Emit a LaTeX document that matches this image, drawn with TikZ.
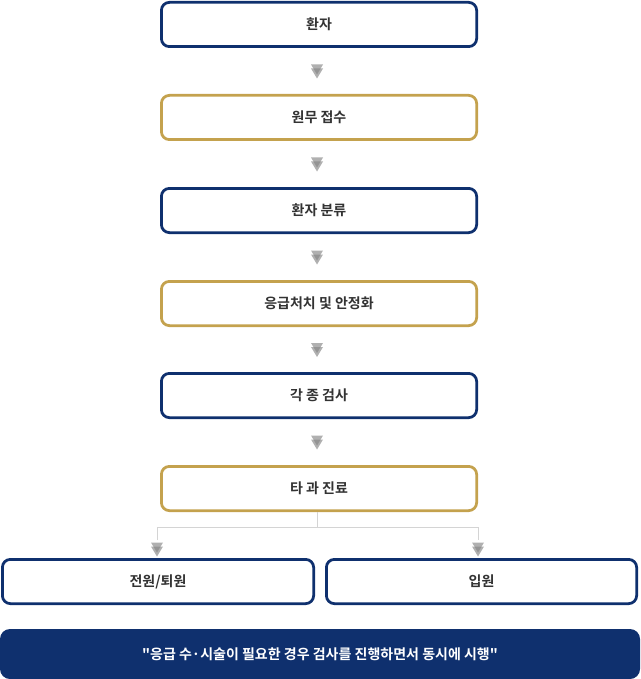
\documentclass[tikz,border=0pt]{standalone}
\usepackage{fontspec}
\setmainfont{Noto Sans CJK KR}[BoldFont={Noto Sans CJK KR Bold}]
\newfontfamily\krplain{Noto Sans CJK KR}[BoldFont={Noto Sans CJK KR Bold}, Ligatures=TeXOff]
\definecolor{navy}{HTML}{0F306E}
\definecolor{gold}{HTML}{C4A24E}
\definecolor{txt}{HTML}{333333}
\definecolor{linegray}{HTML}{D4D4D4}
\definecolor{tri}{HTML}{858585}
\begin{document}
\begin{tikzpicture}[x=1pt,y=-1pt,
  base/.style={rounded corners=8pt, line width=2.75pt, fill=white, text=txt,
    font=\fontsize{14}{16}\selectfont\bfseries, inner sep=0pt},
  navybox/.style={base, draw=navy, minimum width=315.25pt, minimum height=44.25pt},
  goldbox/.style={base, draw=gold, minimum width=315.25pt, minimum height=44.25pt},
  halfbox/.style={base, draw=navy, minimum height=44.25pt},
  banner/.style={rounded corners=10pt, fill=navy, text=white, inner sep=0pt,
    minimum width=640pt, minimum height=50pt, font=\krplain\fontsize{14}{16}\selectfont\bfseries},
  conn/.style={draw=linegray, line width=1pt},
  dtri/.pic={
    \fill[tri, opacity=0.65] (-6,-6.5) -- (6,-6.5) -- (0,3.5) -- cycle;
    \fill[tri, opacity=0.65] (-6,-2.5) -- (6,-2.5) -- (0,7.5) -- cycle;
  }]
\useasboundingbox (0,0) rectangle (640,679);

\node[navybox] (b1) at (319,24.5) {환자};
\node[goldbox] (b2) at (319,117.5) {원무 접수};
\node[navybox] (b3) at (319,210.5) {환자 분류};
\node[goldbox] (b4) at (319,303.5) {응급처치 및 안정화};
\node[navybox] (b5) at (319,395.5) {각 종 검사};
\node[goldbox] (b6) at (319,488.5) {타 과 진료};

\node[halfbox, minimum width=311.25pt] (l) at (158,581.5) {전원/퇴원};
\node[halfbox, minimum width=310.25pt] (r) at (481.5,581.5) {입원};

\node[banner] (ban) at (320,654) {"응급 수·시술이 필요한 경우 검사를 진행하면서 동시에 시행"};

\foreach \a/\b in {b1/b2,b2/b3,b3/b4,b4/b5,b5/b6}{
  \path ([xshift=-2pt]\a.south) -- ([xshift=-2pt]\b.north) pic[pos=0.5]{dtri};
}

\coordinate (j) at (317,527);
\coordinate (jl) at (157,527);
\coordinate (jr) at (478,527);
\coordinate (el) at (157,540);
\coordinate (er) at (478,540);
\draw[conn] (b6.south -| j) -- (j);
\draw[conn] (el) -- (jl) -- (jr) -- (er);
\path (el) -- (el |- l.north) pic[pos=0.5]{dtri};
\path (er) -- (er |- r.north) pic[pos=0.5]{dtri};
\end{tikzpicture}
\end{document}
